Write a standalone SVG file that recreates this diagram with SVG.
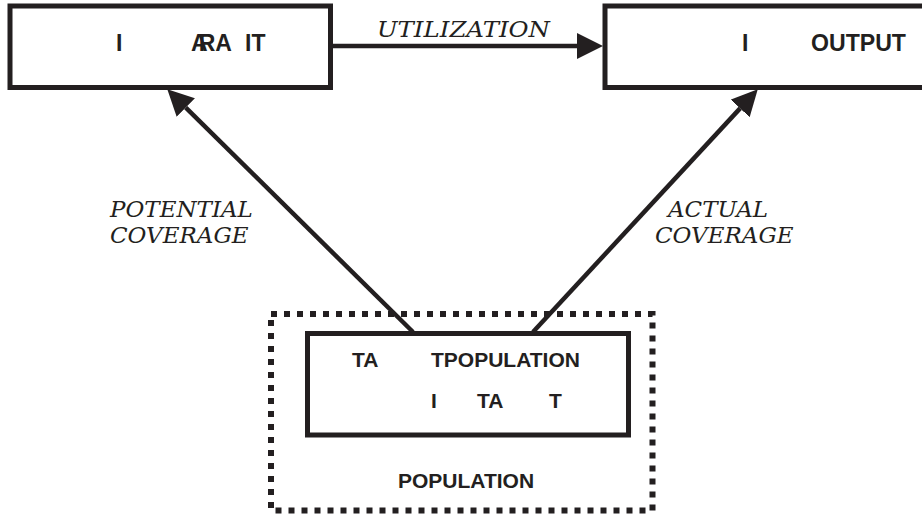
<svg xmlns="http://www.w3.org/2000/svg" width="922" height="521" viewBox="0 0 922 521">
  <style>
    .box { fill: #ffffff; stroke: #231f20; stroke-width: 5; }
    .dotted { fill: none; stroke: #231f20; stroke-width: 6; stroke-dasharray: 6 7; }
    .link { fill: none; stroke: #231f20; stroke-width: 4.5; }
    .head { fill: #231f20; }
    .node-text { font-family: "Liberation Sans", Arial, sans-serif; font-weight: bold; fill: #231f20; }
    .big { font-size: 23px; }
    .small { font-size: 21px; }
    .label { font-family: "DejaVu Serif", "Liberation Serif", serif; font-style: italic; font-size: 23px; fill: #231f20; }
  </style>
  <defs>
    <!-- arrowhead: base sits at the end of the line, tip points forward -->
    <marker id="arrow" markerUnits="userSpaceOnUse" markerWidth="26" markerHeight="26"
            viewBox="0 0 25 25" refX="0" refY="12.5" orient="auto">
      <path class="head" d="M0,0 L25,12.5 L0,25 Z"/>
    </marker>
  </defs>

  <rect width="922" height="521" fill="#ffffff"/>

  <!-- outer population boundary -->
  <g id="population">
    <rect class="dotted" x="271" y="314" width="381.5" height="196.5"/>
    <text class="node-text small" x="398" y="488">POPULATION</text>
  </g>

  <!-- connectors -->
  <g id="connectors">
    <line class="link" x1="333" y1="46" x2="577" y2="46" marker-end="url(#arrow)"/>
    <line class="link" x1="413" y1="332" x2="185.8" y2="107.6" marker-end="url(#arrow)"/>
    <line class="link" x1="533" y1="332" x2="740.1" y2="108.4" marker-end="url(#arrow)"/>
    <text class="label" x="377" y="37" textLength="173" lengthAdjust="spacingAndGlyphs">UTILIZATION</text>
    <text class="label" x="110" y="217">POTENTIAL</text>
    <text class="label" x="110" y="243">COVERAGE</text>
    <text class="label" x="668" y="217">ACTUAL</text>
    <text class="label" x="655" y="243">COVERAGE</text>
  </g>

  <!-- left top node -->
  <g id="node-left">
    <rect class="box" x="10" y="6" width="320.5" height="81.5"/>
    <text class="node-text big" x="116" y="51">I</text>
    <text class="node-text big" x="191" y="51">A<tspan dx="-9">RA</tspan></text>
    <text class="node-text big" x="245" y="51">IT</text>
  </g>

  <!-- right top node -->
  <g id="node-right">
    <rect class="box" x="605" y="6" width="330" height="81.5"/>
    <text class="node-text big" x="742" y="51">I</text>
    <text class="node-text big" x="811" y="51" textLength="95" lengthAdjust="spacingAndGlyphs">OUTPUT</text>
  </g>

  <!-- inner population subset -->
  <g id="node-inner">
    <rect class="box" x="307.5" y="333.5" width="321" height="101.5"/>
    <text class="node-text small" x="352" y="366.5">TA</text>
    <text class="node-text small" x="431" y="366.5">TPOPULATION</text>
    <text class="node-text small" x="431" y="408">I</text>
    <text class="node-text small" x="477" y="408">TA</text>
    <text class="node-text small" x="549" y="408">T</text>
  </g>
</svg>
